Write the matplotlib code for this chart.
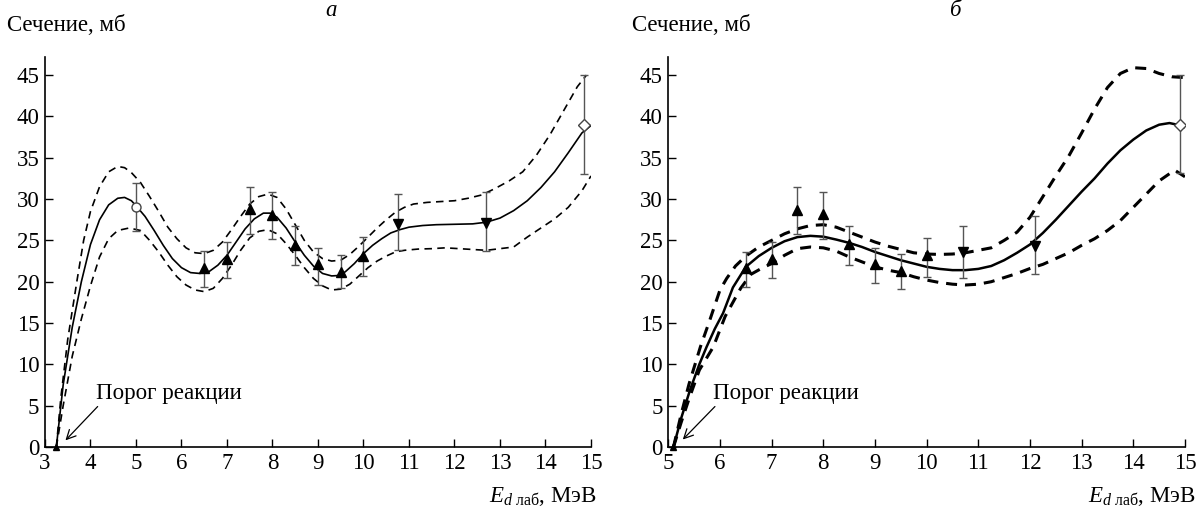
"""Cross section vs deuteron energy, two panels (a, b)."""
import matplotlib

matplotlib.use("Agg")
import matplotlib.pyplot as plt
from matplotlib.axes import Axes

plt.rcParams["font.family"] = ["Liberation Serif", "DejaVu Serif"]
plt.rcParams["mathtext.fontset"] = "custom"
plt.rcParams["mathtext.rm"] = "Liberation Serif"
plt.rcParams["mathtext.it"] = "Liberation Serif:italic"

FS = 16.5

# ---- panel a: measured points ----
a_up_x = [6.5, 7.0, 7.5, 8.0, 8.5, 9.0, 9.5, 10.0]
a_up_y = [21.6, 22.7, 28.8, 28.1, 24.5, 22.1, 21.2, 23.1]
a_up_lo = [19.4, 20.4, 25.8, 25.2, 22.0, 19.6, 19.2, 20.7]
a_up_hi = [23.7, 24.8, 31.5, 30.8, 26.8, 24.1, 23.2, 25.4]
a_down_x = [10.75, 12.7]
a_down_y = [27.0, 27.05]
a_down_lo = [23.8, 23.7]
a_down_hi = [30.6, 30.8]
a_circle = (5.0, 29.0, 26.1, 32.0)
a_diamond = (14.85, 39.0, 33.0, 45.0)
a_threshold = 3.25

# ---- panel a: fitted curve and its band ----
a_fit_x = [3.25, 3.4, 3.6, 3.8, 4.0, 4.2, 4.4, 4.6, 4.75, 4.9, 5.0, 5.2, 5.4,
           5.6, 5.8, 6.0, 6.2, 6.4, 6.6, 6.8, 7.0, 7.2, 7.4, 7.6, 7.8, 7.95,
           8.1, 8.3, 8.5, 8.7, 8.9, 9.1, 9.3, 9.45, 9.6, 9.8, 10.0, 10.2,
           10.4, 10.6, 10.8, 11.0, 11.3, 11.6, 12.0, 12.4, 12.7, 13.0, 13.3,
           13.6, 13.9, 14.2, 14.5, 14.8, 15.0]
a_fit_y = [0.0, 7.5, 14.5, 20.0, 24.5, 27.5, 29.3, 30.1, 30.2, 29.8, 29.2,
           27.9, 26.2, 24.4, 22.8, 21.7, 21.1, 21.0, 21.2, 22.0, 23.2, 24.8,
           26.4, 27.6, 28.3, 28.3, 27.8, 26.5, 24.8, 23.2, 21.9, 21.0, 20.7,
           20.75, 21.2, 22.2, 23.4, 24.4, 25.2, 25.9, 26.3, 26.6, 26.8, 26.9,
           26.95, 27.0, 27.2, 27.7, 28.6, 29.8, 31.4, 33.3, 35.6, 38.0, 38.9]
a_up_band_x = [3.25, 3.35, 3.5, 3.7, 3.85, 4.0, 4.2, 4.4, 4.6, 4.75, 4.9,
               5.1, 5.3, 5.5, 5.7, 5.9, 6.1, 6.3, 6.5, 6.7, 6.9, 7.1, 7.3,
               7.5, 7.7, 7.9, 8.1, 8.3, 8.5, 8.7, 8.9, 9.1, 9.3, 9.5, 9.7,
               9.9, 10.1, 10.3, 10.5, 10.7, 10.9, 11.1, 11.4, 11.7, 12.0,
               12.3, 12.6, 12.9, 13.2, 13.5, 13.8, 14.1, 14.4, 14.7, 14.9]
a_up_band_y = [0.0, 6.0, 13.0, 20.0, 25.0, 28.5, 31.5, 33.3, 33.95, 33.8,
               33.2, 32.0, 30.3, 28.5, 26.6, 25.2, 24.1, 23.5, 23.4, 23.8,
               24.8, 26.3, 27.9, 29.4, 30.3, 30.6, 30.2, 28.8, 26.9, 25.0,
               23.6, 22.8, 22.5, 22.6, 23.3, 24.3, 25.4, 26.5, 27.5, 28.4,
               29.0, 29.4, 29.6, 29.7, 29.8, 30.1, 30.5, 31.3, 32.2, 33.3,
               35.3, 37.8, 40.7, 43.6, 45.0]
a_lo_band_x = [3.25, 3.4, 3.6, 3.8, 4.0, 4.2, 4.4, 4.6, 4.85, 5.1, 5.3, 5.5,
               5.7, 5.9, 6.1, 6.3, 6.5, 6.7, 6.9, 7.1, 7.3, 7.5, 7.7, 7.9,
               8.1, 8.3, 8.5, 8.7, 8.9, 9.1, 9.3, 9.5, 9.7, 9.9, 10.1, 10.3,
               10.5, 10.7, 10.9, 11.2, 11.5, 11.8, 12.1, 12.4, 12.7, 13.0,
               13.3, 13.6, 13.9, 14.2, 14.5, 14.8, 15.0]
a_lo_band_y = [0.0, 5.0, 11.0, 15.5, 19.5, 23.0, 25.2, 26.2, 26.5, 26.2,
               25.0, 23.6, 22.0, 20.6, 19.6, 19.0, 18.8, 19.2, 20.4, 22.0,
               23.8, 25.3, 26.1, 26.3, 25.8, 24.6, 23.2, 21.7, 20.4, 19.5,
               19.0, 19.1, 19.7, 20.7, 21.7, 22.5, 23.1, 23.6, 23.8, 23.95,
               24.0, 24.1, 24.0, 23.9, 23.8, 24.0, 24.2, 25.4, 26.5, 27.6,
               29.0, 31.0, 32.8]

# ---- panel b: measured points ----
b_up_x = [6.5, 7.0, 7.5, 8.0, 8.5, 9.0, 9.5, 10.0]
b_up_y = [21.6, 22.8, 28.7, 28.2, 24.6, 22.1, 21.3, 23.2]
b_up_lo = [19.4, 20.4, 25.8, 25.2, 22.0, 19.8, 19.1, 20.6]
b_up_hi = [23.6, 24.8, 31.5, 30.8, 26.8, 24.1, 23.3, 25.3]
b_down_x = [10.7, 12.1]
b_down_y = [23.6, 24.3]
b_down_lo = [20.4, 20.9]
b_down_hi = [26.8, 28.0]
b_diamond = (14.9, 39.0, 33.1, 45.0)
b_threshold = 5.1

# ---- panel b: fitted curve and its band ----
b_fit_x = [5.1, 5.25, 5.42, 5.6, 5.74, 5.9, 6.06, 6.25, 6.5, 6.75, 7.0,
           7.25, 7.5, 7.75, 8.0, 8.25, 8.5, 8.75, 9.0, 9.25, 9.5, 9.75,
           10.0, 10.25, 10.5, 10.75, 11.0, 11.25, 11.5, 11.75, 12.0, 12.25,
           12.5, 12.75, 13.0, 13.25, 13.5, 13.75, 14.0, 14.25, 14.5, 14.7,
           14.85, 15.0]
b_fit_y = [0.0, 3.5, 6.9, 10.0, 12.1, 14.3, 16.2, 19.3, 21.8, 23.1, 24.1,
           24.9, 25.4, 25.55, 25.45, 25.1, 24.7, 24.2, 23.6, 23.1, 22.6,
           22.2, 21.8, 21.55, 21.4, 21.4, 21.55, 21.9, 22.6, 23.5, 24.5,
           25.9, 27.5, 29.2, 30.9, 32.5, 34.3, 35.9, 37.2, 38.3, 39.0, 39.2,
           39.0, 38.7]
b_up_band_x = [5.1, 5.25, 5.4, 5.62, 5.8, 6.0, 6.13, 6.3, 6.5, 6.75, 7.0,
               7.25, 7.5, 7.75, 8.0, 8.25, 8.5, 8.75, 9.0, 9.25, 9.5, 9.75,
               10.0, 10.25, 10.5, 10.75, 11.0, 11.25, 11.5, 11.75, 12.0,
               12.25, 12.5, 12.75, 13.0, 13.25, 13.5, 13.75, 14.0, 14.25,
               14.5, 14.75, 15.0]
b_up_band_y = [0.0, 4.0, 7.6, 12.1, 15.3, 19.0, 20.4, 21.9, 23.1, 24.2,
               25.0, 25.8, 26.4, 26.8, 26.9, 26.6, 26.0, 25.4, 24.8, 24.3,
               23.9, 23.5, 23.35, 23.3, 23.35, 23.5, 23.8, 24.1, 25.0, 26.0,
               27.8, 30.3, 32.8, 35.2, 38.0, 40.9, 43.5, 45.2, 45.9, 45.8,
               45.2, 44.8, 44.7]
b_lo_band_x = [5.1, 5.25, 5.4, 5.6, 5.87, 6.1, 6.4, 6.6, 6.8, 7.0, 7.25,
               7.5, 7.75, 8.0, 8.25, 8.5, 8.75, 9.0, 9.25, 9.5, 9.75, 10.0,
               10.25, 10.5, 10.75, 11.0, 11.25, 11.5, 11.75, 12.0, 12.25,
               12.5, 12.75, 13.0, 13.25, 13.5, 13.75, 14.0, 14.25, 14.5,
               14.8, 15.0]
b_lo_band_y = [0.0, 3.0, 5.8, 9.3, 12.1, 15.8, 19.2, 20.9, 21.6, 22.2,
               23.2, 24.0, 24.2, 24.1, 23.7, 23.0, 22.4, 21.8, 21.4, 21.1,
               20.6, 20.2, 19.9, 19.7, 19.6, 19.7, 20.0, 20.5, 21.0, 21.6,
               22.1, 22.8, 23.5, 24.4, 25.2, 26.2, 27.4, 29.0, 30.6, 32.2,
               33.5, 32.7]

y_ticks = [0, 5, 10, 15, 20, 25, 30, 35, 40, 45]
ERR_COLOR = "#555555"


def draw_errors(ax: Axes, xs, ys, lo, hi, marker: str, **kw) -> None:
    """Error bars plus markers."""
    yerr = [[y - l for y, l in zip(ys, lo)], [h - y for y, h in zip(ys, hi)]]
    ax.errorbar(xs, ys, yerr=yerr, fmt="none", ecolor=ERR_COLOR,
                elinewidth=1.0, capsize=3.2, capthick=1.0, zorder=3)
    ax.plot(xs, ys, linestyle="none", marker=marker, zorder=4, **kw)


def style_axes(ax: Axes, x0: int, label_x: float) -> None:
    ax.set_xlim(x0, 15)
    ax.set_ylim(0, 47.2)
    ax.set_xticks(range(x0, 16))
    ax.set_yticks(y_ticks)
    for side in ("top", "right"):
        ax.spines[side].set_visible(False)
    for side in ("left", "bottom"):
        ax.spines[side].set_linewidth(1.2)
    ax.tick_params(direction="in", length=6, width=1.0, labelsize=FS, pad=4)
    ax.text(label_x, -0.128, r"$E_{d\ \mathrm{лаб}}$, МэВ",
            transform=ax.transAxes, ha="right", va="center", fontsize=FS)


def plot_panel(ax: Axes, fit, upper, lower, thin: bool) -> None:
    if thin:
        ax.plot(*fit, color="black", lw=1.2, zorder=2)
        dash = dict(color="black", lw=1.2, dashes=(4.5, 3.2), zorder=2)
    else:
        ax.plot(*fit, color="black", lw=1.8, zorder=2)
        dash = dict(color="black", lw=2.2, dashes=(3.6, 2.6), zorder=2)
    ax.plot(*upper, **dash)
    ax.plot(*lower, **dash)


fig = plt.figure(figsize=(11.99, 5.14), dpi=100)
ax_a = fig.add_axes([0.0375, 0.1304, 0.4554, 0.7588])
ax_b = fig.add_axes([0.5574, 0.1304, 0.4309, 0.7588])

tri = dict(color="black", markersize=7.5)
open_mk = dict(markerfacecolor="white", markeredgecolor="#444444",
               markersize=6.5, markeredgewidth=1.0)

# panel a
plot_panel(ax_a, (a_fit_x, a_fit_y), (a_up_band_x, a_up_band_y),
           (a_lo_band_x, a_lo_band_y), thin=True)
draw_errors(ax_a, a_up_x, a_up_y, a_up_lo, a_up_hi, "^", **tri)
draw_errors(ax_a, a_down_x, a_down_y, a_down_lo, a_down_hi, "v", **tri)
draw_errors(ax_a, [a_circle[0]], [a_circle[1]], [a_circle[2]], [a_circle[3]],
            "o", **open_mk)
draw_errors(ax_a, [a_diamond[0]], [a_diamond[1]], [a_diamond[2]],
            [a_diamond[3]], "D", **open_mk)
ax_a.plot([a_threshold], [0], marker="^", color="black", markersize=5,
          clip_on=False, zorder=4)
ax_a.annotate("Порог реакции", xy=(a_threshold + 0.2, 0.8),
              xytext=(4.12, 6.5), fontsize=FS, va="center",
              arrowprops=dict(arrowstyle="->", lw=0.9, color="black",
                              shrinkA=0, shrinkB=0,
                              relpos=(0.03, 0.0)))
style_axes(ax_a, 3, 1.011)

# panel b
plot_panel(ax_b, (b_fit_x, b_fit_y), (b_up_band_x, b_up_band_y),
           (b_lo_band_x, b_lo_band_y), thin=False)
draw_errors(ax_b, b_up_x, b_up_y, b_up_lo, b_up_hi, "^", **tri)
draw_errors(ax_b, b_down_x, b_down_y, b_down_lo, b_down_hi, "v", **tri)
draw_errors(ax_b, [b_diamond[0]], [b_diamond[1]], [b_diamond[2]],
            [b_diamond[3]], "D", **open_mk)
ax_b.plot([b_threshold], [0], marker="^", color="black", markersize=5,
          clip_on=False, zorder=4)
ax_b.annotate("Порог реакции", xy=(b_threshold + 0.18, 0.9),
              xytext=(5.87, 6.5), fontsize=FS, va="center",
              arrowprops=dict(arrowstyle="->", lw=0.9, color="black",
                              shrinkA=0, shrinkB=0,
                              relpos=(0.03, 0.0)))
style_axes(ax_b, 5, 1.021)

fig.text(0.006, 0.951, "Сечение, мб", fontsize=FS, ha="left", va="center")
fig.text(0.527, 0.951, "Сечение, мб", fontsize=FS, ha="left", va="center")
fig.text(0.276, 0.98, "а", fontsize=FS, style="italic", ha="center",
         va="center")
fig.text(0.797, 0.98, "б", fontsize=FS, style="italic", ha="center",
         va="center")

fig.savefig("out.png", dpi=100, facecolor="white")
